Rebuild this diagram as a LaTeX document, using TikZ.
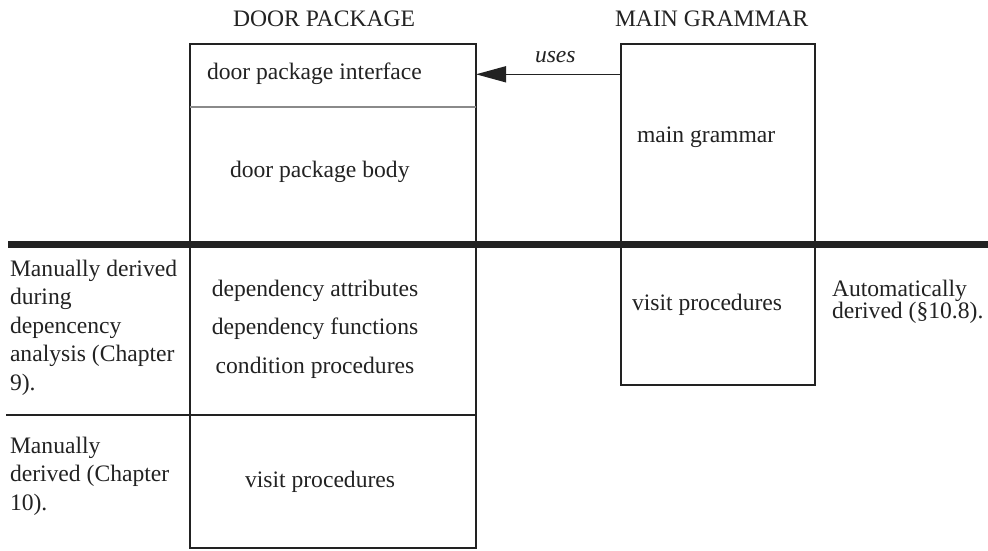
\documentclass[tikz,border=0pt]{standalone}
\usepackage{fontspec}
\setmainfont{Liberation Serif}
\usetikzlibrary{arrows.meta}
\definecolor{ink}{HTML}{222222}
\definecolor{rule}{HTML}{8A8A8A}
\begin{document}
\begin{tikzpicture}[x=1pt,y=-1pt,
  txt/.style={inner sep=0pt,outer sep=0pt,text=ink,font=\fontsize{23.6}{28.5}\selectfont},
  lbl/.style={txt,anchor=base west},
  % multi-line notes: the base anchor sits on the last line
  para/.style={txt,anchor=base west,align=left},
  pkgbox/.style={draw=ink,line width=2.5pt,inner sep=0pt,outer sep=0pt,anchor=north west},
  sep/.style={line width=1.5pt},
  divider/.style={draw=ink,line width=7pt}]
\useasboundingbox (0,0) rectangle (988,551);

% component boxes
\node[pkgbox,minimum width=286pt,minimum height=504pt] (door) at (190,44) {};
\node[pkgbox,minimum width=194pt,minimum height=341pt] (main) at (621,44) {};

% headings
\node[lbl] (hdoor) at (233,26.7) {DOOR PACKAGE};
\node[lbl] (hmain) at (615,26.7) {MAIN GRAMMAR};

% interface / body split and the manual-section split
\coordinate (ifl) at (190,107);
\coordinate (ifr) at (476,107);
\draw[sep,draw=rule] (ifl) -- (ifr);
\coordinate (msl) at (6,415);
\coordinate (msr) at (476,415);
\draw[sep,draw=ink] (msl) -- (msr);

% divider between grammar level and generated code
\coordinate (dl) at (8,244);
\coordinate (dr) at (988,244);
\draw[divider] (dl) -- (dr);

% uses relation
\coordinate (ustart) at (621,74.3);
\coordinate (uend) at (476,74.3);
\draw[draw=ink,line width=1.5pt,-{Triangle[length=30pt,width=16pt]}] (ustart) -- (uend);
\node[lbl,font=\fontsize{23.6}{28.5}\selectfont\itshape] (uses) at (535,63) {uses};

% door package contents
\node[lbl] (iface) at (207,80) {door package interface};
\node[lbl] (body) at (230,177) {door package body};
\node[txt,anchor=base,align=center,font=\fontsize{23.6}{38.5}\selectfont] (deps) at (315,373)
  {dependency attributes\\dependency functions\\condition procedures};
\node[lbl] (dvisit) at (245,487) {visit procedures};

% main grammar contents
\node[lbl] (mg) at (637,142) {main grammar};
\node[lbl] (mvisit) at (632,310) {visit procedures};

% side notes
\node[para] (note1) at (10,390) {Manually derived\\during\\depencency\\analysis (Chapter\\9).};
\node[para] (note2) at (10,510) {Manually\\derived (Chapter\\10).};
\node[txt,anchor=base west,align=left,font=\fontsize{23.6}{22}\selectfont] (note3) at (832,318) {Automatically\\derived (\S10.8).};
\end{tikzpicture}
\end{document}
